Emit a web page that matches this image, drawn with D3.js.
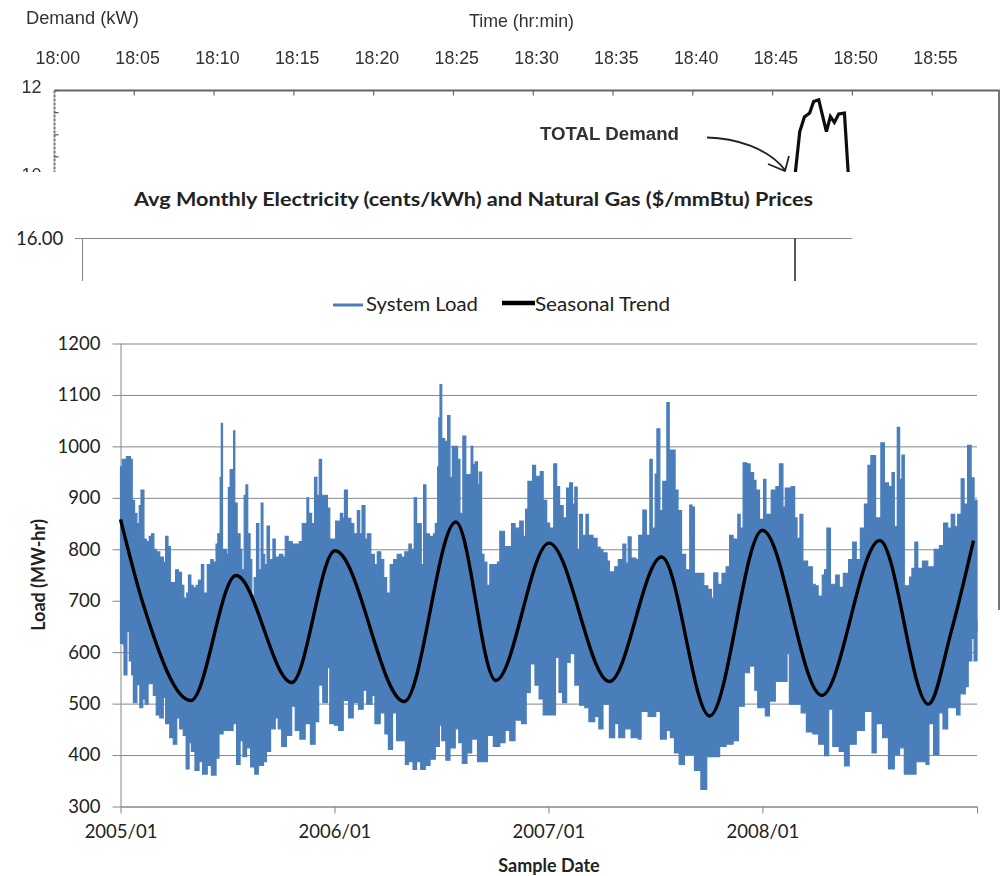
<!DOCTYPE html>
<html>
<head>
<meta charset="utf-8">
<script src="https://cdn.jsdelivr.net/npm/d3@7"></script>
<style>
  html, body { margin: 0; background: #fff; }
  svg { display: block; }
  text { font-family: Lato, sans-serif; fill: #222; }
  .scan text { font-family: "Liberation Sans", Arial, sans-serif; fill: #333; }
</style>
</head>
<body>
<div id="chart"></div>
<script>
const width = 1001;
const height = 876;

// main chart: envelope of the load trace (days since 2005/01/01, MW-hr)
const loadHighDays = [
  0,3,10,17,20,24,28,32,35,40,44,49,53,57,61,67,73,77,81,85,90,94,99,104,108,113,116,120,124,129,133,138,142,148,154,158,
  163,166,170,172,174,181,184,187,190,193,195,199,204,207,211,214,217,221,224,228,232,236,240,243,246,250,254,260,264,271,
  277,281,286,293,301,305,310,314,318,321,326,331,335,339,343,348,353,357,363,367,375,379,382,387,393,398,404,408,412,417,
  421,427,433,438,444,449,454,460,466,472,479,485,492,496,501,505,509,513,517,521,527,534,537,541,543,545,548,553,558,562,
  566,571,575,579,584,589,594,598,601,605,609,612,616,620,625,630,636,643,
  647,655,667,673,681,687,691,695,703,708,716,721,727,732,739,744,749,755,761,766,771,775,779,783,788,794,798,806,813,818,
  823,830,834,843,849,857,862,866,871,879,884,891,897,903,907,912,915,920,925,932,936,941,946,951,957,964,971,975,979,988,
  995,1002,1008,1012,1019,1026,1033,1039,1045,1053,1057,1062,1068,1074,1080,1084,1090,1097,1101,1110,1118,1124,1130,1134,
  1144,1150,1154,1159,1164,1172,1180,1185,1190,1197,1201,1205,1211,1220,1226,1233,1242,1249,1255,1262,1269,1275,1280,1288,
  1297,1303,1310,1316,1320,1325,1329,1333,1337,1346,1350,1355,1360,1368,1377,1388,1397,1404,1411,1417,1423,1428,1434,1439,
  1445,1451,1456,1461
];
const loadHigh = [
  960,975,980,975,895,870,850,885,915,820,815,825,830,800,795,785,775,825,805,735,735,760,755,730,705,715,750,730,725,730,740,770,715,770,780,775,
  810,830,940,1045,800,790,920,955,955,1030,890,830,800,760,905,925,830,780,710,745,850,760,890,790,770,845,780,820,785,790,
  785,825,815,810,810,815,850,850,900,870,850,940,905,975,905,905,880,820,820,855,870,860,915,860,850,830,875,830,885,820,
  830,790,770,795,780,745,715,770,780,790,785,795,810,800,900,850,850,770,925,830,825,830,850,960,1055,1120,1015,1010,1060,940,
  1000,1000,975,870,1020,945,945,1000,965,970,925,950,790,775,730,770,770,775,
  835,805,850,841,855,825,878,932,963,942,951,895,851,841,966,922,885,861,919,929,888,921,800,868,827,868,827,821,804,800,
  793,777,756,766,780,810,773,824,783,780,827,876,827,975,841,946,1034,875,932,1085,993,993,915,875,790,760,886,882,753,753,
  729,722,705,754,732,753,766,827,820,868,841,968,966,949,934,915,858,936,868,915,922,966,882,919,
  922,861,821,868,777,766,732,729,709,750,760,841,732,750,726,753,780,814,780,841,888,963,982,861,
  1007,929,922,949,844,1037,936,983,729,746,763,814,763,777,766,800,807,851,841,868,844,868,937,888,
  1002,939,895,892
];
const loadLowDays = [
  0,5,6,9,11,15,19,22,26,28,33,38,42,47,51,56,61,67,73,77,84,90,96,101,107,112,117,121,127,134,140,148,155,163,168,175,
  184,192,198,204,209,215,222,229,235,244,249,256,264,269,275,283,292,298,306,315,324,332,338,345,353,357,365,372,380,389,
  397,406,414,420,429,434,443,451,457,464,471,486,491,499,505,512,520,528,537,544,548,555,562,571,577,583,591,599,609,618,
  626,636,
  647,656,664,673,684,692,699,707,714,721,732,742,748,754,761,767,775,783,792,799,809,816,823,834,843,850,860,871,883,888,
  900,913,921,931,938,945,953,962,974,979,990,1000,1011,1022,1033,1045,1054,1064,1073,1082,1087,1100,1107,1117,1127,1137,
  1141,1153,1161,1170,1181,1191,1201,1208,1215,1226,1235,1243,1255,1269,1282,1289,1300,1310,1320,1329,1337,1346,1357,1374,
  1379,1387,1396,1403,1411,1426,1432,1441,1446,1452,1456,1461
];
const loadLow = [
  617,614,556,556,648,583,556,502,502,537,492,509,499,539,539,516,478,472,512,461,434,421,472,451,438,373,424,407,370,387,363,380,361,394,441,448,
  448,461,382,428,397,414,377,363,380,387,407,451,472,451,417,438,495,448,431,461,421,465,536,502,570,461,458,448,506,472,
  502,489,526,499,516,461,482,441,411,482,428,382,387,372,387,372,380,392,417,458,428,390,414,451,424,384,404,431,387,387,
  438,417,
  424,448,428,468,461,522,577,536,509,478,478,590,522,502,580,597,536,497,492,465,475,451,499,434,461,434,451,434,431,485,
  475,485,431,448,434,404,382,401,401,370,333,397,397,417,421,428,495,560,573,526,492,476,505,543,543,597,
  499,499,482,445,441,421,399,489,417,407,379,421,448,485,404,461,434,373,401,414,363,363,387,382,
  461,401,482,451,492,478,519,533,583,627,583,610
];

// seasonal trend readings
const trendDays = [0, 39, 120, 197, 292, 366, 484, 572, 640, 731, 834, 923, 1005, 1095, 1196, 1295, 1378, 1417, 1455];
const trendLoad = [858, 692, 506, 749, 541, 797, 504, 853, 545, 812, 543, 785, 476, 837, 516, 817, 499, 640, 817];

const yearTicks = [2005, 2006, 2007, 2008, 2009];
const loadTicks = [300, 400, 500, 600, 700, 800, 900, 1000, 1100, 1200];

// scanned chart behind, only its top strip shows (minutes after 18:00, kW)
const demandMinutes = [46.38, 46.7, 46.99, 47.32, 47.57, 47.89, 48.37, 48.62, 48.87, 49.14, 49.5, 49.76];
const demandKw = [10, 11.07, 11.4, 11.49, 11.75, 11.79, 11.07, 11.41, 11.28, 11.47, 11.49, 10];
const clockTicks = ["18:00", "18:05", "18:10", "18:15", "18:20", "18:25", "18:30", "18:35", "18:40", "18:45", "18:50", "18:55"];
const kwTicks = [10, 10.5, 11, 11.5, 12];

const svg = d3.select("#chart").append("svg")
    .attr("width", width)
    .attr("height", height);

const defs = svg.append("defs");
defs.append("filter").attr("id", "scanBlur")
    .attr("x", "-5%").attr("y", "-5%").attr("width", "110%").attr("height", "110%")
    .append("feGaussianBlur").attr("stdDeviation", 0.55);

// --- scanned demand chart ---
const scan = svg.append("g").attr("class", "scan").attr("filter", "url(#scanBlur)");
const xMin = d3.scaleLinear().domain([0, 60]).range([54.5, 1012]);
const yKw = d3.scaleLinear().domain([10, 12]).range([179, 90.5]);

scan.append("text").attr("x", 26).attr("y", 24).attr("font-size", 18.3).text("Demand (kW)");
scan.append("text").attr("x", 469).attr("y", 27).attr("font-size", 17.8).text("Time (hr:min)");

scan.selectAll(".clock")
    .data(clockTicks)
    .join("text")
    .attr("class", "clock")
    .attr("x", (d, i) => xMin(i * 5) + 3.3)
    .attr("y", 64)
    .attr("font-size", 17.8)
    .attr("text-anchor", "middle")
    .text(d => d);

scan.selectAll(".kw")
    .data([10, 12])
    .join("text")
    .attr("class", "kw")
    .attr("x", 31.5)
    .attr("y", d => yKw(d) + 2)
    .attr("font-size", 18)
    .attr("text-anchor", "middle")
    .text(d => d);

scan.append("path")
    .attr("d", `M${xMin(0)},${yKw(12)}H999V610`)
    .attr("fill", "none")
    .attr("stroke", "#666")
    .attr("stroke-width", 1.8);
scan.append("path")
    .attr("d", `M${xMin(0)},${yKw(12)}V180`)
    .attr("fill", "none")
    .attr("stroke", "#777")
    .attr("stroke-width", 2)
    .attr("stroke-dasharray", "3 1");

scan.selectAll(".xtick")
    .data(clockTicks.slice(1))
    .join("line")
    .attr("class", "xtick")
    .attr("x1", (d, i) => xMin((i + 1) * 5))
    .attr("x2", (d, i) => xMin((i + 1) * 5))
    .attr("y1", yKw(12))
    .attr("y2", yKw(12) + 5)
    .attr("stroke", "#666")
    .attr("stroke-width", 1.2);
scan.selectAll(".ytick")
    .data(kwTicks)
    .join("line")
    .attr("class", "ytick")
    .attr("x1", xMin(0))
    .attr("x2", xMin(0) + 4)
    .attr("y1", d => yKw(d))
    .attr("y2", d => yKw(d))
    .attr("stroke", "#555")
    .attr("stroke-width", 1.2);

scan.append("path")
    .datum(demandMinutes)
    .attr("d", d3.line().x(d => xMin(d)).y((d, i) => yKw(demandKw[i])))
    .attr("fill", "none")
    .attr("stroke", "#111")
    .attr("stroke-width", 3.2);

scan.append("text")
    .attr("x", 540).attr("y", 140)
    .attr("font-size", 18)
    .attr("font-weight", "bold")
    .attr("textLength", 139)
    .attr("lengthAdjust", "spacingAndGlyphs")
    .text("TOTAL Demand");
scan.append("path")
    .attr("d", "M707,137.5C735,138 768,148 785,170M789,156L785,171L768,164")
    .attr("fill", "none")
    .attr("stroke", "#222")
    .attr("stroke-width", 1.8);

// the pasted panel covers the rest of the scan
svg.append("rect")
    .attr("x", 0).attr("y", 172)
    .attr("width", 996.5).attr("height", height - 172)
    .attr("fill", "#fff");

// --- price chart, only title and top of the frame show ---
svg.append("text")
    .attr("x", 134).attr("y", 206)
    .attr("font-size", 18.5)
    .attr("font-weight", "bold")
    .attr("fill", "#111")
    .attr("textLength", 679)
    .attr("lengthAdjust", "spacingAndGlyphs")
    .text("Avg Monthly Electricity (cents/kWh) and Natural Gas ($/mmBtu) Prices");
svg.append("text")
    .attr("x", 16).attr("y", 245)
    .attr("font-size", 18.5)
    .text("16.00");
svg.append("line").attr("x1", 75).attr("x2", 852).attr("y1", 238.5).attr("y2", 238.5)
    .attr("stroke", "#868686");
svg.append("line").attr("x1", 82.5).attr("x2", 82.5).attr("y1", 238.5).attr("y2", 281)
    .attr("stroke", "#868686");
svg.append("line").attr("x1", 795).attr("x2", 795).attr("y1", 238.5).attr("y2", 281)
    .attr("stroke", "#111").attr("stroke-width", 1.4);

// --- load chart ---
const x = d3.scaleUtc()
    .domain([new Date(Date.UTC(2005, 0, 1)), new Date(Date.UTC(2009, 0, 1))])
    .range([120.5, 977]);
const y = d3.scaleLinear().domain([300, 1200]).range([806.5, 343.5]);

const dayDate = d => d3.utcDay.offset(new Date(Date.UTC(2005, 0, 1)), d);

const yAxis = d3.axisLeft(y)
    .tickValues(loadTicks)
    .tickFormat(d3.format("d"))
    .tickSize(8)
    .tickPadding(12);
const gy = svg.append("g").attr("transform", "translate(120.5,0)").call(yAxis);
gy.selectAll(".tick line").clone()
    .attr("x1", 0)
    .attr("x2", x.range()[1] - x.range()[0]);
gy.selectAll("line, .domain").attr("stroke", "#868686");
gy.select(".domain").attr("d", `M0.5,${y(1200)}V${y(300)}`);
gy.selectAll("text").attr("font-size", 18.5).attr("fill", "#222").attr("font-family", "Lato, sans-serif");

const xAxis = d3.axisBottom(x)
    .tickValues(yearTicks.map(d => new Date(Date.UTC(d, 0, 1))))
    .tickFormat(d => d.getUTCFullYear() < 2009 ? d3.utcFormat("%Y/%m")(d) : "")
    .tickSize(7)
    .tickPadding(11);
const gx = svg.append("g").attr("transform", "translate(0,806.5)").call(xAxis);
gx.selectAll("line, .domain").attr("stroke", "#868686");
gx.select(".domain").attr("d", `M${x.range()[0]},0.5H${x.range()[1]}`);
gx.selectAll("text").attr("font-size", 18.5).attr("fill", "#222").attr("font-family", "Lato, sans-serif");

const bandColor = "#4a7ebb";

// stroke thickens the thin spikes the way the original line trace does
svg.append("path")
    .datum(loadHighDays)
    .attr("fill", bandColor)
    .attr("stroke", bandColor)
    .attr("stroke-width", 1.2)
    .attr("d", d3.area()
        .curve(d3.curveStepAfter)
        .x(d => x(dayDate(d)))
        .y0(y(640))
        .y1((d, i) => y(loadHigh[i])));

svg.append("path")
    .datum(loadLowDays)
    .attr("fill", bandColor)
    .attr("stroke", bandColor)
    .attr("stroke-width", 1.2)
    .attr("d", d3.area()
        .curve(d3.curveStepAfter)
        .x(d => x(dayDate(d)))
        .y0(y(660))
        .y1((d, i) => y(loadLow[i])));

svg.append("path")
    .datum(trendDays)
    .attr("fill", "none")
    .attr("stroke", "#000")
    .attr("stroke-width", 3.4)
    .attr("d", d3.line()
        .curve(d3.curveMonotoneX)
        .x(d => x(dayDate(d)))
        .y((d, i) => y(trendLoad[i])));

// axis titles
svg.append("text")
    .attr("transform", "translate(45,575) rotate(-90)")
    .attr("text-anchor", "middle")
    .attr("font-size", 18)
    .attr("font-weight", "bold")
    .attr("fill", "#111")
    .text("Load (MW-hr)");
svg.append("text")
    .attr("x", 549).attr("y", 872)
    .attr("text-anchor", "middle")
    .attr("font-size", 18)
    .attr("font-weight", "bold")
    .attr("fill", "#111")
    .text("Sample Date");

// legend
svg.append("line").attr("x1", 333).attr("x2", 363).attr("y1", 305).attr("y2", 305)
    .attr("stroke", bandColor).attr("stroke-width", 3);
svg.append("text").attr("x", 366).attr("y", 311)
    .attr("font-size", 18.5)
    .attr("textLength", 112).attr("lengthAdjust", "spacingAndGlyphs")
    .text("System Load");
svg.append("line").attr("x1", 502).attr("x2", 535).attr("y1", 303).attr("y2", 303)
    .attr("stroke", "#000").attr("stroke-width", 4.5);
svg.append("text").attr("x", 535).attr("y", 311)
    .attr("font-size", 18.5)
    .attr("textLength", 135).attr("lengthAdjust", "spacingAndGlyphs")
    .text("Seasonal Trend");
</script>
</body>
</html>
